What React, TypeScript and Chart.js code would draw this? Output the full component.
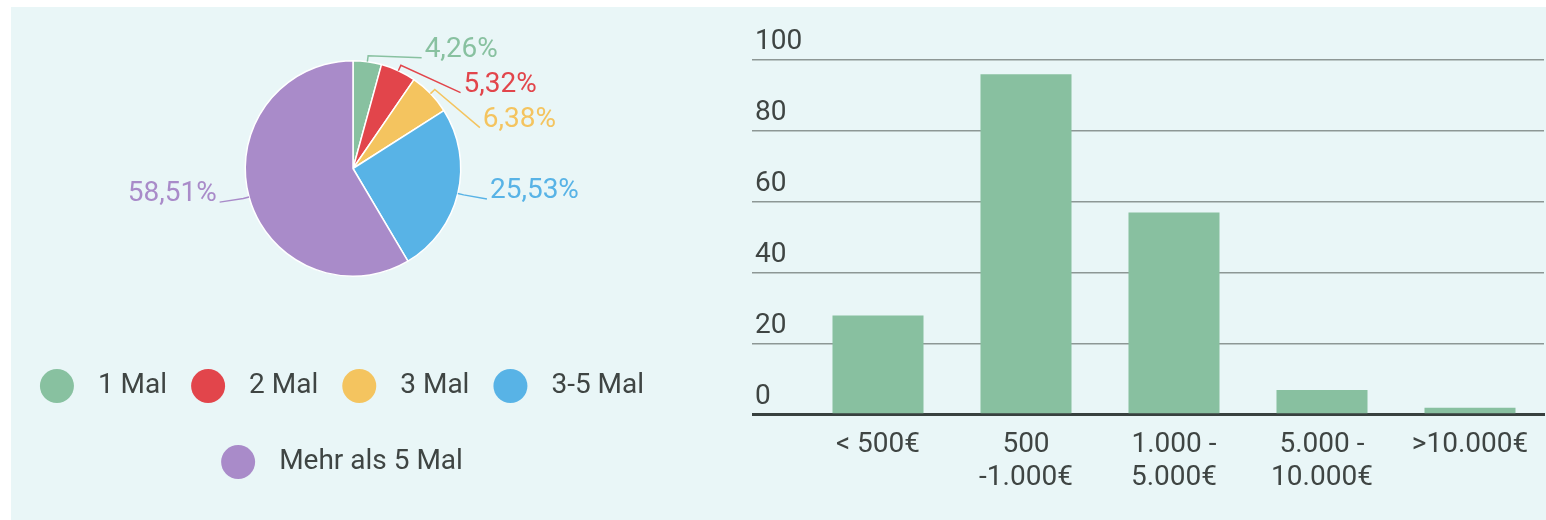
import React, { useEffect, useRef } from 'react';
import { Chart, registerables } from 'chart.js';

Chart.register(...registerables);
Chart.defaults.font.family = 'Roboto';

// ---------- data ----------
const pieLabels = ['1 Mal', '2 Mal', '3 Mal', '3-5 Mal', 'Mehr als 5 Mal'];
const pieValues = [4, 5, 6, 24, 55];
const pieColors = ['#88c1a0', '#e2454b', '#f4c45f', '#58b3e6', '#a98bc9'];

const barCategories = [['< 500€'], ['500', '-1.000€'], ['1.000 -', '5.000€'], ['5.000 -', '10.000€'], ['>10.000€']];
const barValues = [28, 96, 57, 7, 2];
const yTicks = [0, 20, 40, 60, 80, 100];
const barColor = '#88c0a0';

const textColor = '#3f4543';
const gridColor = '#8d9795';
const baseColor = '#38413f';

const fmtPct = (v: number, total: number) => (v / total * 100).toFixed(2).replace('.', ',') + '%';

const pieLabelPlugin = {
  id: 'pieLabels',
  afterDatasetsDraw(chart: any) {
    const ctx = chart.ctx;
    const meta = chart.getDatasetMeta(0);
    const data: number[] = chart.data.datasets[0].data;
    const colors: string[] = chart.data.datasets[0].backgroundColor;
    const total = data.reduce((a, b) => a + b, 0);
    const items = meta.data.map((arc: any, i: number) => {
      const p = arc.getProps(['x', 'y', 'startAngle', 'endAngle', 'outerRadius'], true);
      const a = (p.startAngle + p.endAngle) / 2;
      return {
        i, cx: p.x, cy: p.y, R: p.outerRadius, a,
        ex: p.x + p.outerRadius * Math.cos(a),
        ey: p.y + p.outerRadius * Math.sin(a),
        right: Math.cos(a) >= 0,
        pref: 0.9 * p.outerRadius * Math.sin(a),
        dy: 0,
      };
    });
    const spacing = 35;
    for (const side of [true, false]) {
      const list = items.filter((it: any) => it.right === side).sort((p: any, q: any) => p.pref - q.pref);
      const clusters: any[] = [];
      for (const it of list) {
        clusters.push({ items: [it], center: it.pref });
        while (clusters.length > 1) {
          const c2 = clusters[clusters.length - 1];
          const c1 = clusters[clusters.length - 2];
          const top2 = c2.center - (c2.items.length - 1) * spacing / 2;
          const bot1 = c1.center + (c1.items.length - 1) * spacing / 2;
          if (bot1 + spacing > top2) {
            const merged = [...c1.items, ...c2.items];
            const center = merged.reduce((s: number, m: any) => s + m.pref, 0) / merged.length;
            clusters.splice(clusters.length - 2, 2, { items: merged, center });
          } else break;
        }
      }
      for (const c of clusters) {
        c.items.forEach((it: any, k: number) => {
          it.dy = c.center - (c.items.length - 1) * spacing / 2 + k * spacing;
        });
      }
    }
    ctx.save();
    ctx.font = '28px Roboto';
    ctx.textBaseline = 'middle';
    for (const it of items) {
      const L = it.R + 31;
      const dx = Math.sqrt(Math.max(L * L - it.dy * it.dy, 0));
      const lx = it.right ? it.cx + dx : it.cx - dx;
      const ly = it.cy + it.dy;
      const col = colors[it.i];
      ctx.strokeStyle = col;
      ctx.lineWidth = 1.5;
      ctx.beginPath();
      ctx.moveTo(it.ex, it.ey);
      ctx.lineTo(it.ex + 6 * Math.cos(it.a), it.ey + 6 * Math.sin(it.a));
      ctx.lineTo(it.right ? lx - 3 : lx + 3, ly + 8);
      ctx.stroke();
      ctx.fillStyle = col;
      ctx.textAlign = it.right ? 'left' : 'right';
      ctx.fillText(fmtPct(data[it.i], total), lx, ly);
    }
    ctx.restore();
  },
};

const pieLegendPlugin = {
  id: 'pieLegend',
  afterDraw(chart: any, _args: any, opts: any) {
    const ctx = chart.ctx;
    const labels: string[] = chart.data.labels;
    const colors: string[] = chart.data.datasets[0].backgroundColor;
    ctx.save();
    ctx.font = '28px Roboto';
    ctx.textBaseline = 'middle';
    ctx.textAlign = 'left';
    const r = opts.radius, gapIn = opts.gapIn, gapOut = opts.gapOut;
    const items = labels.map((t, i) => ({ t, c: colors[i], w: 2 * r + gapIn + ctx.measureText(t).width }));
    const rows: any[][] = [[]];
    let rowW = 0;
    for (const it of items) {
      const add = (rows[rows.length - 1].length ? gapOut : 0) + it.w;
      if (rows[rows.length - 1].length && rowW + add > opts.maxWidth) {
        rows.push([it]);
        rowW = it.w;
      } else {
        rows[rows.length - 1].push(it);
        rowW += add;
      }
    }
    const cx = chart.width / 2;
    rows.forEach((row, k) => {
      const y = opts.top + k * opts.rowGap;
      const total = row.reduce((s, it) => s + it.w, 0) + gapOut * (row.length - 1);
      let x = cx - total / 2;
      for (const it of row) {
        ctx.fillStyle = it.c;
        ctx.beginPath();
        ctx.arc(x + r, y, r, 0, Math.PI * 2);
        ctx.fill();
        ctx.fillStyle = textColor;
        ctx.fillText(it.t, x + 2 * r + gapIn, y);
        x += it.w + gapOut;
      }
    });
    ctx.restore();
  },
};

export default function App() {
  const pieRef = useRef<HTMLCanvasElement>(null);
  const barRef = useRef<HTMLCanvasElement>(null);

  useEffect(() => {
    const pie = new Chart(pieRef.current as HTMLCanvasElement, {
      type: 'pie',
      data: {
        labels: pieLabels,
        datasets: [{
          data: pieValues,
          backgroundColor: pieColors,
          borderColor: '#ffffff',
          borderWidth: 1.5,
        }],
      },
      options: {
        responsive: false,
        animation: false,
        devicePixelRatio: 1,
        layout: { padding: { left: 150, right: 128, top: 60, bottom: 243 } },
        plugins: {
          legend: { display: false },
          tooltip: { enabled: false },
          pieLegend: { top: 386, rowGap: 76, radius: 17, gapIn: 24, gapOut: 24, maxWidth: 640 },
        } as any,
      },
      plugins: [pieLabelPlugin, pieLegendPlugin],
    });

    const bar = new Chart(barRef.current as HTMLCanvasElement, {
      type: 'bar',
      data: {
        labels: barCategories,
        datasets: [{
          data: barValues,
          backgroundColor: barColor,
          barPercentage: 0.615,
          categoryPercentage: 1,
        }],
      },
      options: {
        responsive: false,
        animation: false,
        devicePixelRatio: 1,
        layout: { padding: { left: 55, right: 2, top: 60, bottom: 20 } },
        plugins: { legend: { display: false }, tooltip: { enabled: false } },
        scales: {
          x: {
            z: 1,
            grid: { display: false },
            border: { display: true, color: baseColor, width: 3 },
            ticks: {
              color: textColor,
              font: { size: 28 },
              padding: 5,
              maxRotation: 0,
              autoSkip: false,
            },
          },
          y: {
            min: yTicks[0],
            max: yTicks[yTicks.length - 1],
            border: { display: false },
            grid: {
              color: (c: any) => (c.tick && c.tick.value === 0 ? baseColor : gridColor),
              lineWidth: (c: any) => (c.tick && c.tick.value === 0 ? 3 : 1.5),
              drawTicks: true,
              tickLength: 52,
            },
            ticks: {
              stepSize: yTicks[1] - yTicks[0],
              color: textColor,
              font: { size: 28 },
              crossAlign: 'far',
              labelOffset: -18,
              padding: 0,
            },
            afterFit: (s: any) => { s.width = 49; },
          },
        },
      },
    });

    return () => { pie.destroy(); bar.destroy(); };
  }, []);

  return (
    <div style={{ position: 'fixed', left: 0, top: 0, width: 1546, height: 520, background: '#ffffff', overflow: 'hidden' }}>
      <div style={{ position: 'absolute', left: 11, top: 7, right: 0, bottom: 0, background: '#e9f6f7' }} />
      <canvas ref={pieRef} width={684} height={520} style={{ position: 'absolute', left: 0, top: 0, width: 684, height: 520 }} />
      <canvas ref={barRef} width={846} height={520} style={{ position: 'absolute', left: 700, top: 0, width: 846, height: 520 }} />
    </div>
  );
}
